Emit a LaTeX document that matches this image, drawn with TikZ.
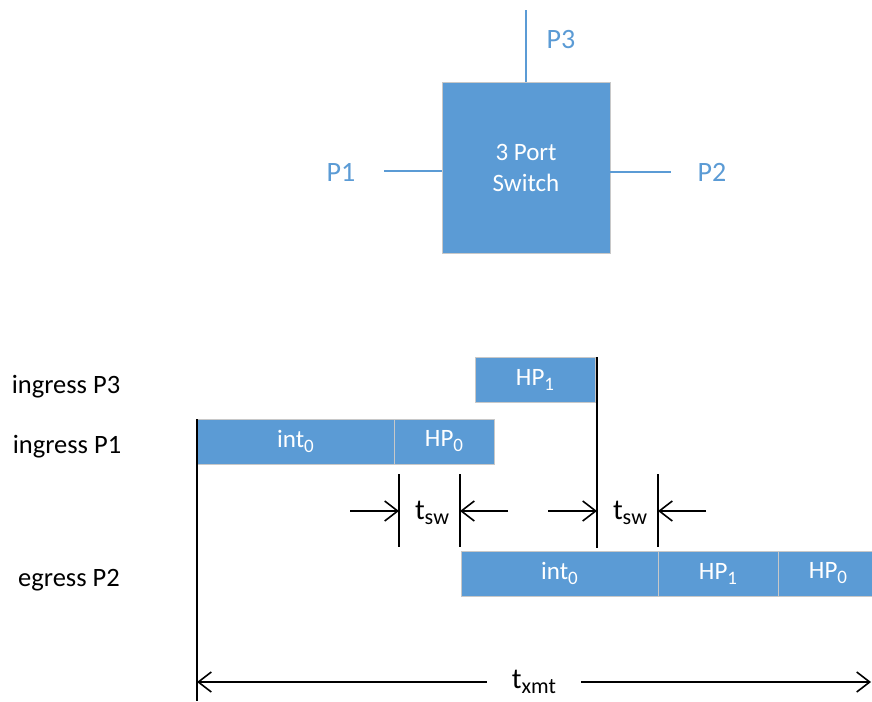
\documentclass[tikz,border=0pt]{standalone}
\usepackage{fontspec}
\setmainfont{Carlito}
\usetikzlibrary{arrows.meta}
\definecolor{swblue}{HTML}{5B9BD5}
\definecolor{swedge}{HTML}{C8C8C8}
\newcommand\lowsub[1]{\raisebox{-0.2em}{\scalebox{0.76}{#1}}}
\tikzset{
  slot/.style={draw=swedge,line width=0.8pt,fill=swblue,text=white,inner sep=0pt,outer sep=0pt,
    minimum height=45pt,font=\fontsize{25}{29}\selectfont},
  port/.style={draw=swblue,line width=1.6pt},
  portlabel/.style={text=swblue,font=\fontsize{28}{32}\selectfont},
  rowlabel/.style={font=\fontsize{26.5}{30}\selectfont},
  timeline/.style={line width=1.6pt},
  dim/.style={line width=1.6pt,-{Straight Barb[length=13pt,width=20pt,line width=1.6pt]}},
  dimlabel/.style={font=\fontsize{29}{32}\selectfont,inner sep=0pt}
}
\begin{document}
\begin{tikzpicture}[x=1pt,y=-1pt]
\useasboundingbox[fill=white] (0,0) rectangle (872,701);
% switch and its ports
\node[draw=swedge,line width=0.8pt,fill=swblue,text=white,outer sep=0pt,minimum width=168pt,minimum height=171pt,
  align=center,font=\fontsize{25}{31}\selectfont] (sw) at (526,167.5) {3 Port\\Switch};
\coordinate (p3end) at (526,10);
\coordinate (p1end) at (384,171);
\coordinate (p2end) at (671,172);
\draw[port] (sw.north) -- (p3end);
\draw[port] (p1end) -- (p1end -| sw.west);
\draw[port] (p2end -| sw.east) -- (p2end);
\node[portlabel] (p3) at (561,40) {P3};
\node[portlabel] (p1) at (341,172) {P1};
\node[portlabel] (p2) at (712,172) {P2};
% row labels
\node[rowlabel] (inp3) at (66,387) {ingress P3};
\node[rowlabel] (inp1) at (67,447) {ingress P1};
\node[rowlabel] (egp2) at (69,580) {egress P2};
% ingress frames
\node[slot,anchor=north west,minimum width=120pt] (hp1in) at (475,357) {HP\lowsub{1}};
\node[slot,anchor=north west,minimum width=197pt] (int0in) at (197,419) {int\lowsub{0}};
\node[slot,anchor=north west,minimum width=100pt] (hp0in) at (int0in.north east) {HP\lowsub{0}};
% egress frames
\node[slot,anchor=north west,minimum width=197pt] (int0eg) at (461,551) {int\lowsub{0}};
\node[slot,anchor=north west,minimum width=120pt] (hp1eg) at (int0eg.north east) {HP\lowsub{1}};
\node[slot,anchor=north west,minimum width=100pt] (hp0eg) at (hp1eg.north east) {HP\lowsub{0}};
% time marks
\coordinate (start) at (197,701);
\coordinate (hp1end) at (597,548);
\draw[timeline] (int0in.north west) -- (start);
\draw[timeline] (hp1end |- hp1in.north) -- (hp1end);
\coordinate (sw1a) at (399,474);
\coordinate (sw1b) at (460,474);
\coordinate (sw2b) at (658,474);
\draw[timeline] (sw1a) -- ++(0,73);
\draw[timeline] (sw1b) -- ++(0,73);
\draw[timeline] (sw2b) -- ++(0,73);
% switching delays
\draw[dim] (350,511) -- (sw1a |- 0,511);
\draw[dim] (508,511) -- (sw1b |- 0,511);
\node[dimlabel] (tsw1) at (432,513) {t\lowsub{sw}};
\draw[dim] (548,511) -- (hp1end |- 0,511);
\draw[dim] (706,511) -- (sw2b |- 0,511);
\node[dimlabel] (tsw2) at (630,513) {t\lowsub{sw}};
% transmit time
\coordinate (xmtL) at (197,682);
\coordinate (xmtR) at (871,682);
\draw[line width=1.6pt,{Straight Barb[length=13pt,width=20pt,line width=1.6pt]}-{Straight Barb[length=13pt,width=20pt,line width=1.6pt]}]
  (xmtL) -- node[dimlabel,fill=white,inner xsep=25pt,inner ysep=2pt] (txmt) {t\lowsub{xmt}} (xmtR);
\end{tikzpicture}
\end{document}
